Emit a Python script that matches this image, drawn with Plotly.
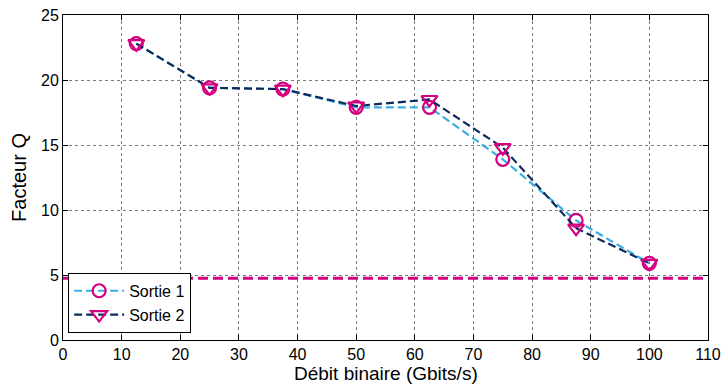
import plotly.graph_objects as go

debit = [12.5, 25, 37.5, 50, 62.5, 75, 87.5, 100]
sortie1 = [22.8, 19.4, 19.3, 17.9, 17.9, 13.9, 9.2, 5.9]
sortie2 = [22.8, 19.4, 19.3, 18.0, 18.5, 14.8, 8.6, 5.9]
seuil = 4.75
x_ticks = [0, 10, 20, 30, 40, 50, 60, 70, 80, 90, 100, 110]
y_ticks = [0, 5, 10, 15, 20, 25]

magenta = "#D4007F"
fig = go.Figure()
fig.add_trace(go.Scatter(x=[0, 110], y=[seuil, seuil], mode="lines", showlegend=False,
                         line=dict(color=magenta, width=3, dash="10px,5px"), hoverinfo="skip"))
fig.add_trace(go.Scatter(x=debit, y=sortie1, mode="lines+markers", name="Sortie 1",
                         line=dict(color="#3AAEE3", width=2.2, dash="8px,4px"),
                         marker=dict(symbol="circle-open", size=13, color=magenta, line=dict(width=2.2, color=magenta))))
fig.add_trace(go.Scatter(x=debit, y=sortie2, mode="lines+markers", name="Sortie 2",
                         line=dict(color="#0C2B5C", width=2.2, dash="8px,4px"),
                         marker=dict(symbol="triangle-down-open", size=14, color=magenta, line=dict(width=2.2, color=magenta))))

axis_common = dict(showline=True, linecolor="black", linewidth=1, mirror="ticks", ticks="inside",
                   ticklen=5, tickcolor="black", showgrid=True, gridcolor="#7a7a7a", griddash="dot",
                   gridwidth=1, zeroline=False, automargin=False, ticklabeloverflow="allow",
                   tickfont=dict(size=16, color="black"),
                   title_font=dict(size=20, color="black"))
fig.update_xaxes(range=[0, 110], tickvals=x_ticks, **axis_common)
fig.update_yaxes(range=[0, 25], tickvals=y_ticks, title_text="Facteur Q", title_standoff=9, **axis_common)
fig.add_annotation(text="Débit binaire (Gbits/s)", x=0.5, y=0, xref="paper", yref="paper",
                   xanchor="center", yanchor="top", yshift=-21, showarrow=False,
                   font=dict(size=19, color="black"))
fig.update_layout(width=721, height=388, margin=dict(l=63, r=13, t=15, b=48),
                  plot_bgcolor="white", paper_bgcolor="white",
                  font=dict(family="Liberation Sans, Arial", color="black"),
                  legend=dict(x=0.008, y=0.022, xanchor="left", yanchor="bottom", bgcolor="white",
                              bordercolor="black", borderwidth=1, font=dict(size=16),
                              tracegroupgap=0, itemwidth=50))
fig.write_html("out.html", config={"displayModeBar": False},
               post_script="document.body.style.margin='0';")
